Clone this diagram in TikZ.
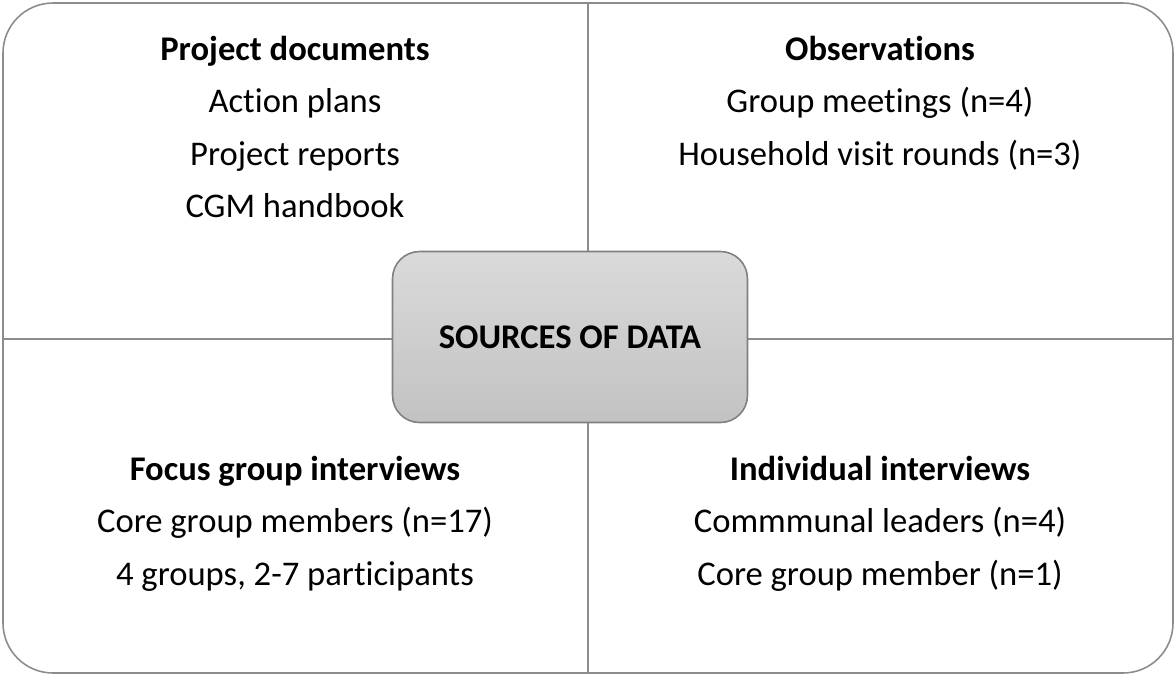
\documentclass[tikz,border=0pt]{standalone}
\usepackage{fontspec}
\setmainfont{Carlito}[Ligatures=NoCommon]
\usepackage{tikz}
\definecolor{framegray}{RGB}{140,140,140}
\definecolor{boxedge}{RGB}{128,128,128}
\definecolor{boxtop}{RGB}{218,218,218}
\definecolor{boxbot}{RGB}{194,194,194}
\tikzset{
  heading/.style={anchor=base, font=\fontsize{19.7}{23}\selectfont\bfseries},
  entry/.style={anchor=base, font=\fontsize{19.7}{23}\selectfont},
  centre/.style={draw=boxedge, line width=0.9pt, rounded corners=0.54cm,
    top color=boxtop, bottom color=boxbot,
    minimum width=7.1cm, minimum height=3.42cm,
    font=\fontsize{19.7}{23}\selectfont\bfseries}
}

\begin{document}
\begin{tikzpicture}[x=0.02cm, y=-0.02cm]
    \useasboundingbox (0,0) rectangle (1174,674);
    % frame and the cross
    \coordinate (Ntop) at (588,3);
    \coordinate (Nbot) at (588,673);
    \coordinate (Wmid) at (3,339);
    \coordinate (Emid) at (1173,339);
    \draw[framegray, line width=0.9pt, rounded corners=1cm] (3,3) rectangle (1173,673);
    \draw[framegray, line width=1.1pt] (Ntop) -- (Nbot) (Wmid) -- (Emid);
    \node (src) at (570,337) [centre] {SOURCES OF DATA};
    % top left
    \node (docs) at (295,60) [heading] {Project documents};
    \node (docsA) at (295,112) [entry] {Action plans};
    \node (docsB) at (295,165) [entry] {Project reports};
    \node (docsC) at (295,217) [entry] {CGM handbook};
    % top right
    \node (obs) at (880,60) [heading] {Observations};
    \node (obsA) at (880,112) [entry] {Group meetings (n=4)};
    \node (obsB) at (880,165) [entry] {Household visit rounds (n=3)};
    % bottom left
    \node (fgi) at (295,480) [heading] {Focus group interviews};
    \node (fgiA) at (295,532) [entry] {Core group members (n=17)};
    \node (fgiB) at (295,585) [entry] {4 groups, 2-7 participants};
    % bottom right
    \node (ind) at (880,480) [heading] {Individual interviews};
    \node (indA) at (880,532) [entry] {Commmunal leaders (n=4)};
    \node (indB) at (880,585) [entry] {Core group member (n=1)};
\end{tikzpicture}
\end{document}
